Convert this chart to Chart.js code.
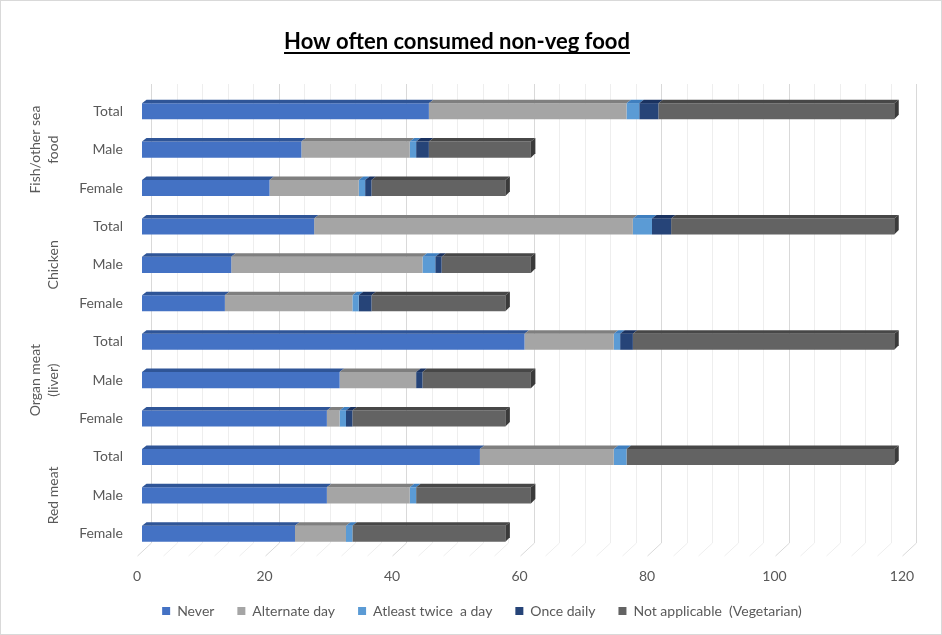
<!DOCTYPE html>
<html>
<head>
<meta charset="utf-8">
<title>How often consumed non-veg food</title>
<script src="https://cdn.jsdelivr.net/npm/chart.js@4.4.1/dist/chart.umd.min.js"></script>
<style>
  html, body { margin: 0; padding: 0; background: #ffffff; }
  canvas { display: block; }
</style>
</head>
<body>
<canvas id="foodChart" width="942" height="635"></canvas>
<script>
const chartTitle = "How often consumed non-veg food"

// food groups, each split into the lines shown beside the rows
const foodGroups = [
    ["Fish/other sea", "food"],
    ["Chicken"],
    ["Organ meat", "(liver)"],
    ["Red meat"],
]
const rowLabels = [
    "Total", "Male", "Female",
    "Total", "Male", "Female",
    "Total", "Male", "Female",
    "Total", "Male", "Female",
]

// counts per row, top to bottom
const never = [45, 25, 20, 27, 14, 13, 60, 31, 29, 53, 29, 24]
const alternateDay = [31, 17, 14, 50, 30, 20, 14, 12, 2, 21, 13, 8]
const twiceADay = [2, 1, 1, 3, 2, 1, 1, 0, 1, 2, 1, 1]
const onceDaily = [3, 2, 1, 3, 1, 2, 2, 1, 1, 0, 0, 0]
const notApplicable = [37, 16, 21, 35, 14, 21, 41, 17, 24, 42, 18, 24]

const xTicks = [0, 20, 40, 60, 80, 100, 120]

const font = "Lato, 'Open Sans', sans-serif"
const textGrey = "#595959"

// darker shade for the top face of each series
const topShades = ["#2f5597", "#7f7f7f", "#3f7fbf", "#1a3260", "#474747"]

// back wall gridlines and floor lines
const wallPlugin = {
    id: "wall",
    beforeDatasetsDraw(chart) {
        const { ctx } = chart
        const x = chart.scales.x
        ctx.save()
        ctx.lineWidth = 1
        for (let v = 0; v <= 120; v += 4) {
            const px = Math.round(x.getPixelForValue(v) + 9) + 0.5
            ctx.strokeStyle = v % 20 === 0 ? "#d9d9d9" : "#eeeeee"
            ctx.beginPath()
            ctx.moveTo(px, 84)
            ctx.lineTo(px, 543)
            ctx.lineTo(px - 14, 556)
            ctx.stroke()
        }
        ctx.restore()
    },
}

// 3d look: slanted top face on each segment, side face on the row end
const bevelPlugin = {
    id: "bevel",
    afterDatasetsDraw(chart) {
        const { ctx } = chart
        const d = 4.5
        const dv = 3.5
        const count = chart.data.datasets.length
        ctx.save()
        chart.data.datasets.forEach((ds, di) => {
            const meta = chart.getDatasetMeta(di)
            meta.data.forEach((bar) => {
                const left = Math.min(bar.base, bar.x)
                const right = Math.max(bar.base, bar.x)
                if (right - left < 0.5) return
                const top = bar.y - bar.height / 2
                const bottom = bar.y + bar.height / 2
                ctx.fillStyle = topShades[di]
                ctx.beginPath()
                ctx.moveTo(left, top)
                ctx.lineTo(left + d, top - dv)
                ctx.lineTo(right + d, top - dv)
                ctx.lineTo(right, top)
                ctx.closePath()
                ctx.fill()
                if (di === count - 1) {
                    ctx.fillStyle = "#3a3a3a"
                    ctx.beginPath()
                    ctx.moveTo(right, top)
                    ctx.lineTo(right + d, top - dv)
                    ctx.lineTo(right + d, bottom - dv - 1)
                    ctx.lineTo(right, bottom)
                    ctx.closePath()
                    ctx.fill()
                }
            })
        })
        ctx.restore()
    },
}

// title with underline, group labels, outer frame
const textPlugin = {
    id: "texts",
    afterDraw(chart) {
        const { ctx } = chart
        const y = chart.scales.y
        ctx.save()

        ctx.font = "bold 22px " + font
        ctx.fillStyle = "#000000"
        ctx.textAlign = "center"
        ctx.textBaseline = "alphabetic"
        ctx.fillText(chartTitle, 457, 49)
        const w = ctx.measureText(chartTitle).width
        ctx.fillRect(457 - w / 2, 52, w, 2)

        ctx.font = "14px " + font
        ctx.fillStyle = textGrey
        ctx.textBaseline = "middle"
        foodGroups.forEach((lines, gi) => {
            const cy = y.getPixelForValue(gi * 3 + 1)
            lines.forEach((line, li) => {
                const cx = 53 - (lines.length - 1 - li) * 18
                ctx.save()
                ctx.translate(cx, cy)
                ctx.rotate(-Math.PI / 2)
                ctx.fillText(line, 0, 0)
                ctx.restore()
            })
        })

        ctx.strokeStyle = "#d9d9d9"
        ctx.lineWidth = 1
        ctx.strokeRect(0.5, 0.5, chart.width - 1, chart.height - 1)
        ctx.restore()
    },
}

const makeSet = (label, data, color) => ({
    label,
    data,
    backgroundColor: color,
    borderWidth: 0,
    barPercentage: 0.42,
    categoryPercentage: 1,
})

new Chart(document.getElementById("foodChart").getContext("2d"), {
    type: "bar",
    data: {
        labels: rowLabels,
        datasets: [
            makeSet("Never", never, "#4472c4"),
            makeSet("Alternate day", alternateDay, "#a5a5a5"),
            makeSet("Atleast twice  a day", twiceADay, "#5b9bd5"),
            makeSet("Once daily", onceDaily, "#264478"),
            makeSet("Not applicable  (Vegetarian)", notApplicable, "#636363"),
        ],
    },
    options: {
        indexAxis: "y",
        responsive: false,
        animation: false,
        layout: {
            padding: { top: 92, left: 57, right: 35, bottom: 7 },
        },
        scales: {
            x: {
                stacked: true,
                min: 0,
                max: 120,
                afterBuildTicks: (scale) => {
                    scale.ticks = xTicks.map((v) => ({ value: v }))
                },
                afterFit: (scale) => {
                    scale.paddingLeft = 0
                    scale.paddingRight = 0
                    scale.height = 28
                },
                grid: { display: false, drawTicks: false },
                border: { display: false },
                ticks: {
                    padding: 15,
                    labelOffset: -5,
                    color: textGrey,
                    font: { family: font, size: 14 },
                },
            },
            y: {
                stacked: true,
                afterFit: (scale) => {
                    scale.width = 85
                },
                grid: { display: false, drawTicks: false },
                border: { display: false },
                ticks: {
                    padding: 19,
                    color: textGrey,
                    font: { family: font, size: 14 },
                },
            },
        },
        plugins: {
            legend: {
                position: "bottom",
                labels: {
                    boxWidth: 8,
                    boxHeight: 8,
                    padding: 23,
                    color: textGrey,
                    font: { family: font, size: 14 },
                },
            },
            tooltip: { enabled: false },
        },
    },
    plugins: [wallPlugin, bevelPlugin, textPlugin],
})
</script>
</body>
</html>
